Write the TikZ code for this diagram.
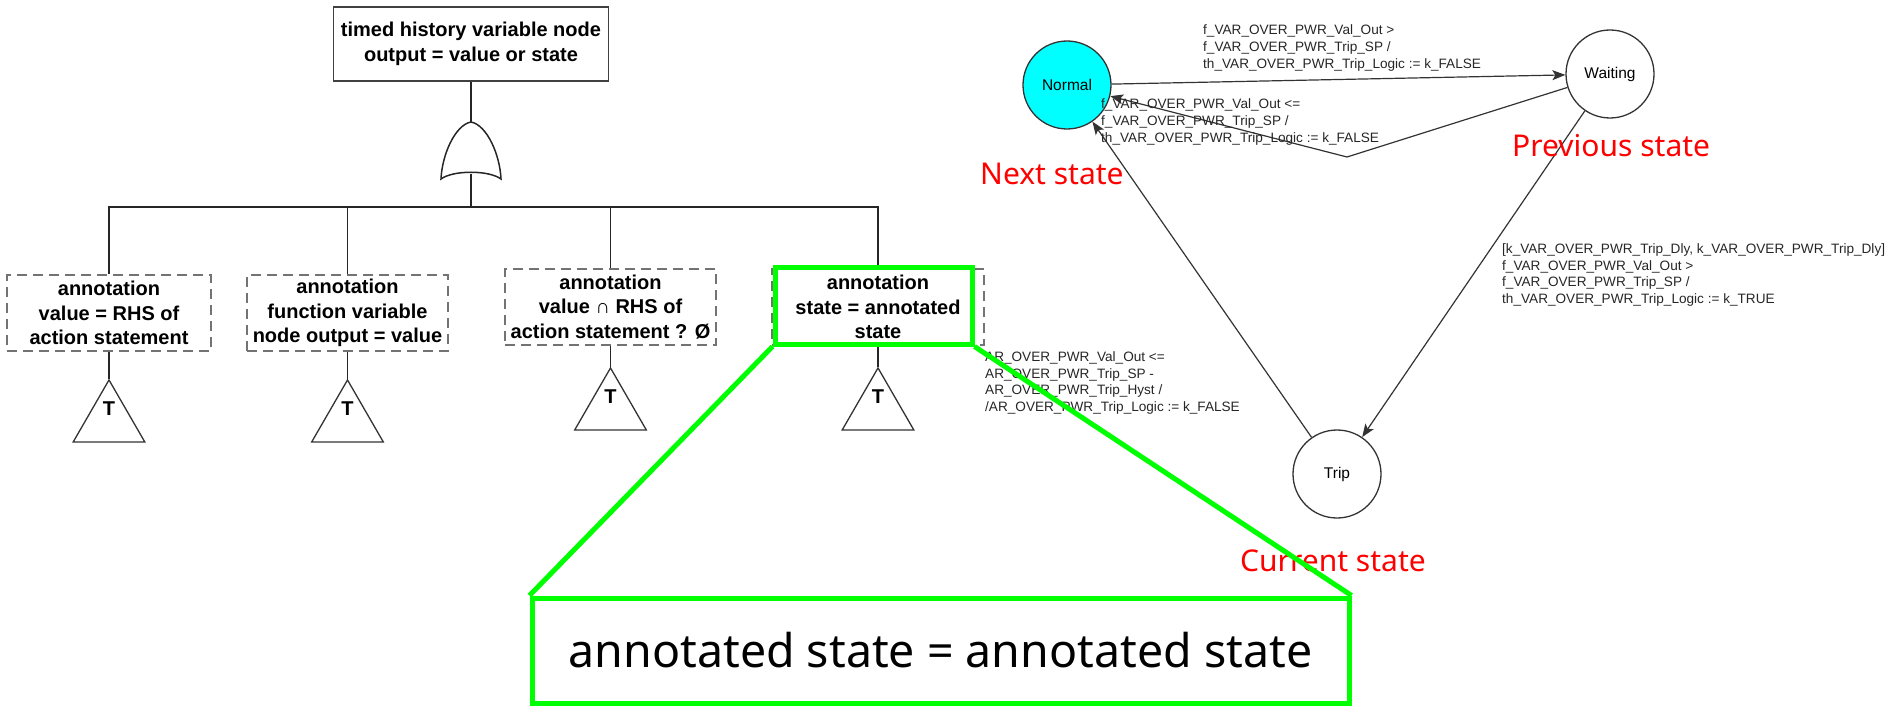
\documentclass[tikz,border=0pt]{standalone}
\usepackage{fontspec}
\setmainfont{Liberation Sans}
\newfontfamily\notefont{Noto Sans}
\usetikzlibrary{shapes.geometric,arrows.meta}
\definecolor{aqua}{RGB}{0,255,255}
\definecolor{lime}{RGB}{0,255,0}

\begin{document}
\begin{tikzpicture}[x=1pt, y=-1pt,
    ftbox/.style={draw=black!75, line width=1.5pt, fill=white, align=center,
      font=\bfseries\fontsize{20}{24.5}\selectfont, inner sep=0pt},
    annot/.style={ftbox, draw=black!55, line width=2pt,
      dash pattern=on 10pt off 6pt, minimum height=76pt},
    transfer/.style={regular polygon, regular polygon sides=3, draw=black!80,
      line width=1.3pt, minimum size=82.7pt, inner sep=0pt,
      label={[yshift=13pt, font=\bfseries\fontsize{20}{24}\selectfont]center:T}},
    conn/.style={line width=1.5pt, draw=black!85},
    state/.style={circle, draw=black!80, line width=1.3pt, minimum size=88pt,
      inner sep=0pt, font=\fontsize{15.5}{18}\selectfont},
    guard/.style={align=left, inner sep=0pt, text=black!85,
      font=\fontsize{13.6}{16.6}\selectfont},
    trans/.style={-{Stealth[length=13pt, width=10pt, inset=3pt]},
      line width=1.2pt, draw=black!80},
    note/.style={text=red, inner sep=0pt,
      font=\notefont\fontsize{30}{36}\selectfont},
    hl/.style={draw=lime, line width=5pt}]
  \useasboundingbox (0, 0) rectangle (1891, 706);

  % state machine
  \node [state, fill=aqua] (normal) at (1067, 85) {Normal};
  \node [state] (waiting) at (1610, 74) {Waiting};
  \node [state] (trip) at (1337, 474) {Trip};
  \coordinate (bend) at (1347, 157);

  \draw [trans] (normal) -- (waiting);
  \draw [trans] (waiting) -- (bend) -- (normal);
  \draw [trans] (waiting) -- (trip);
  \draw [trans] (trip) -- (normal);

  \node [guard, anchor=west] (g1) at (1203, 48)
    {f\_VAR\_OVER\_PWR\_Val\_Out >\\f\_VAR\_OVER\_PWR\_Trip\_SP /\\th\_VAR\_OVER\_PWR\_Trip\_Logic := k\_FALSE};
  \node [guard, anchor=west] (g2) at (1101, 122)
    {f\_VAR\_OVER\_PWR\_Val\_Out <=\\f\_VAR\_OVER\_PWR\_Trip\_SP /\\th\_VAR\_OVER\_PWR\_Trip\_Logic := k\_FALSE};
  \node [guard, anchor=west] (g3) at (1502, 275)
    {[k\_VAR\_OVER\_PWR\_Trip\_Dly, k\_VAR\_OVER\_PWR\_Trip\_Dly]\\f\_VAR\_OVER\_PWR\_Val\_Out >\\f\_VAR\_OVER\_PWR\_Trip\_SP /\\th\_VAR\_OVER\_PWR\_Trip\_Logic := k\_TRUE};
  \node [guard, anchor=west] (g4) at (985, 383)
    {AR\_OVER\_PWR\_Val\_Out <=\\AR\_OVER\_PWR\_Trip\_SP -\\AR\_OVER\_PWR\_Trip\_Hyst /\\/AR\_OVER\_PWR\_Trip\_Logic := k\_FALSE};

  \node [note, anchor=base west] (next) at (980, 185) {Next state};
  \node [note, anchor=base west] (prev) at (1512, 157) {Previous state};
  \node [note, anchor=base west] (cur) at (1240, 571) {Current state};

  % fault tree
  \node [ftbox, minimum width=275pt, minimum height=74pt] (top) at (471, 44)
    {timed history variable node\\output = value or state};
  \coordinate (gtop) at (471, 122);
  \coordinate (gin) at (471, 174);
  \coordinate (bus) at (471, 207);
  \draw [conn] (top) -- (gtop);
  \filldraw [conn, fill=white] (441, 179) .. controls (442, 155) and (455, 125) .. (gtop)
    .. controls (487, 125) and (500, 155) .. (501, 179)
    .. controls (489, 170) and (453, 170) .. (441, 179) -- cycle;
  \draw [conn] (gin) -- (bus);

  \node [annot, minimum width=204pt] (a1) at (109, 313)
    {annotation\\value = RHS of\\action statement};
  \node [annot, minimum width=201pt] (a2) at (347.5, 313)
    {annotation\\function variable\\node output = value};
  \node [annot, minimum width=211pt] (a3) at (610.5, 307)
    {annotation\\value ∩ RHS of\\action statement ? Ø};
  \node [annot, minimum width=212pt] (a4) at (878, 307)
    {annotation\\state = annotated\\state};

  \draw [conn] (a1.north) |- (bus);
  \draw [conn] (a2.north) |- (bus);
  \draw [conn] (a3.north) |- (bus);
  \draw [conn] (a4.north) |- (bus);

  \node [transfer] (t1) at (109, 421.3) {};
  \node [transfer] (t2) at (347.5, 421.3) {};
  \node [transfer] (t3) at (610.5, 409.3) {};
  \node [transfer] (t4) at (878, 409.3) {};
  \draw [conn] (a1.south) -- (t1.north);
  \draw [conn] (a2.south) -- (t2.north);
  \draw [conn] (a3.south) -- (t3.north);
  \draw [conn] (a4.south) -- (t4.north);

  % highlighted annotation, blown up
  \node [hl, minimum width=197pt, minimum height=77pt] (sel) at (873.5, 305.5) {};
  \node [hl, minimum width=817pt, minimum height=105pt,
    font=\notefont\fontsize{46.5}{56}\selectfont] (big) at (940.5, 650.5)
    {annotated state = annotated state};
  \draw [hl] (sel.south west) -- (big.north west);
  \draw [hl] (sel.south east) -- (big.north east);
\end{tikzpicture}
\end{document}
